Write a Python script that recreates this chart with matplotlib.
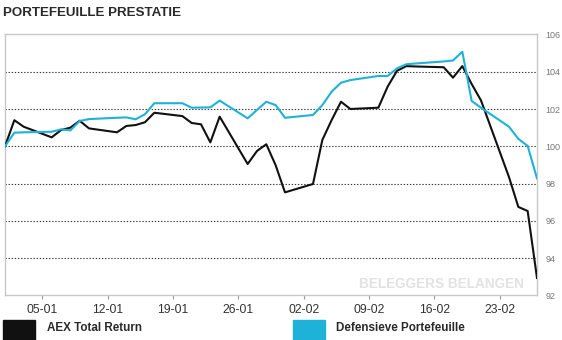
import matplotlib
matplotlib.use("Agg")
import matplotlib.pyplot as plt
import matplotlib.dates as mdates
from matplotlib import font_manager
import pandas as pd

installed = {f.name for f in font_manager.fontManager.ttflist}
base_font = "Liberation Sans Narrow" if "Liberation Sans Narrow" in installed else "Liberation Sans"
plt.rcParams['font.family'] = [base_font, 'DejaVu Sans']

# Trading days, first point is the base (index = 100)
dates = pd.to_datetime([
    "2020-01-01", "2020-01-02", "2020-01-03",
    "2020-01-06", "2020-01-07", "2020-01-08", "2020-01-09", "2020-01-10",
    "2020-01-13", "2020-01-14", "2020-01-15", "2020-01-16", "2020-01-17",
    "2020-01-20", "2020-01-21", "2020-01-22", "2020-01-23", "2020-01-24",
    "2020-01-27", "2020-01-28", "2020-01-29", "2020-01-30", "2020-01-31",
    "2020-02-03", "2020-02-04", "2020-02-05", "2020-02-06", "2020-02-07",
    "2020-02-10", "2020-02-11", "2020-02-12", "2020-02-13", "2020-02-14",
    "2020-02-17", "2020-02-18", "2020-02-19", "2020-02-20", "2020-02-21",
    "2020-02-24", "2020-02-25", "2020-02-26", "2020-02-27",
])

aex = [
    100.0, 101.4, 101.05,
    100.48, 100.87, 101.0, 101.37, 100.96,
    100.75, 101.09, 101.14, 101.29, 101.8,
    101.62, 101.25, 101.18, 100.21, 101.59,
    99.05, 99.75, 100.11, 98.98, 97.53,
    97.98, 100.34, 101.41, 102.39, 102.0,
    102.07, 103.2, 104.05, 104.3, 104.28,
    104.24, 103.68, 104.3, 103.34, 102.46,
    98.35, 96.75, 96.53, 92.94,
]

defensief = [
    100.0, 100.73, 100.75,
    100.78, 100.91, 100.85, 101.36, 101.46,
    101.53, 101.55, 101.45, 101.72, 102.31,
    102.31, 102.07, 102.08, 102.09, 102.45,
    101.5, 101.95, 102.39, 102.21, 101.53,
    101.68, 102.21, 102.93, 103.41, 103.55,
    103.77, 103.77, 104.18, 104.4, 104.44,
    104.55, 104.6, 105.07, 102.43, 102.07,
    101.05, 100.4, 100.02, 98.28,
]

series_names = ["AEX Total Return", "Defensieve Portefeuille"]
y_ticks = [92, 94, 96, 98, 100, 102, 104, 106]

black = "#111111"
cyan = "#1fb2d8"

fig = plt.figure(figsize=(5.62, 3.40), dpi=100)
ax = fig.add_axes([0.0089, 0.1309, 0.9466, 0.7679])

ax.plot(dates, aex, color=black, lw=1.5, zorder=3)
ax.plot(dates, defensief, color=cyan, lw=1.5, zorder=4)

ax.set_xlim(dates[0], dates[-1])
ax.set_ylim(92, 106)

# dotted grid lines
for v in y_ticks[1:-1]:
    ax.axhline(v, color="#333333", lw=0.8, ls=(0, (1.2, 1.6)), zorder=1)

ax.yaxis.tick_right()
ax.set_yticks(y_ticks)
ax.tick_params(axis="y", length=0, pad=6, labelsize=6.5, labelcolor="#777777")

ax.xaxis.set_major_locator(mdates.WeekdayLocator(byweekday=mdates.SU))
ax.xaxis.set_major_formatter(mdates.DateFormatter("%d-%m"))
ax.tick_params(axis="x", length=3, width=0.8, color="#999999", pad=3,
               labelsize=8.7, labelcolor="#333333")

for s in ax.spines.values():
    s.set_color("#c8c8c8")
    s.set_linewidth(1)

ax.text(0.82, 0.044, "BELEGGERS BELANGEN", transform=ax.transAxes,
        ha="center", va="center", fontsize=9.8, fontweight="bold",
        color="#e2e2e2", zorder=2)

fig.text(0.005, 0.963, "PORTEFEUILLE PRESTATIE", ha="left", va="center",
         fontsize=9.6, fontweight="bold", color="#2a2a2a")

# legend blocks
fig.patches.append(plt.Rectangle((0.0053, 0.0), 0.057, 0.059, color=black,
                                 transform=fig.transFigure, figure=fig))
fig.text(0.0836, 0.035, series_names[0], ha="left", va="center",
         fontsize=8.4, fontweight="bold", color="#2a2a2a")
fig.patches.append(plt.Rectangle((0.521, 0.0), 0.057, 0.059, color=cyan,
                                 transform=fig.transFigure, figure=fig))
fig.text(0.598, 0.035, series_names[1], ha="left", va="center",
         fontsize=8.4, fontweight="bold", color="#2a2a2a")

fig.savefig("out.png", dpi=100)
